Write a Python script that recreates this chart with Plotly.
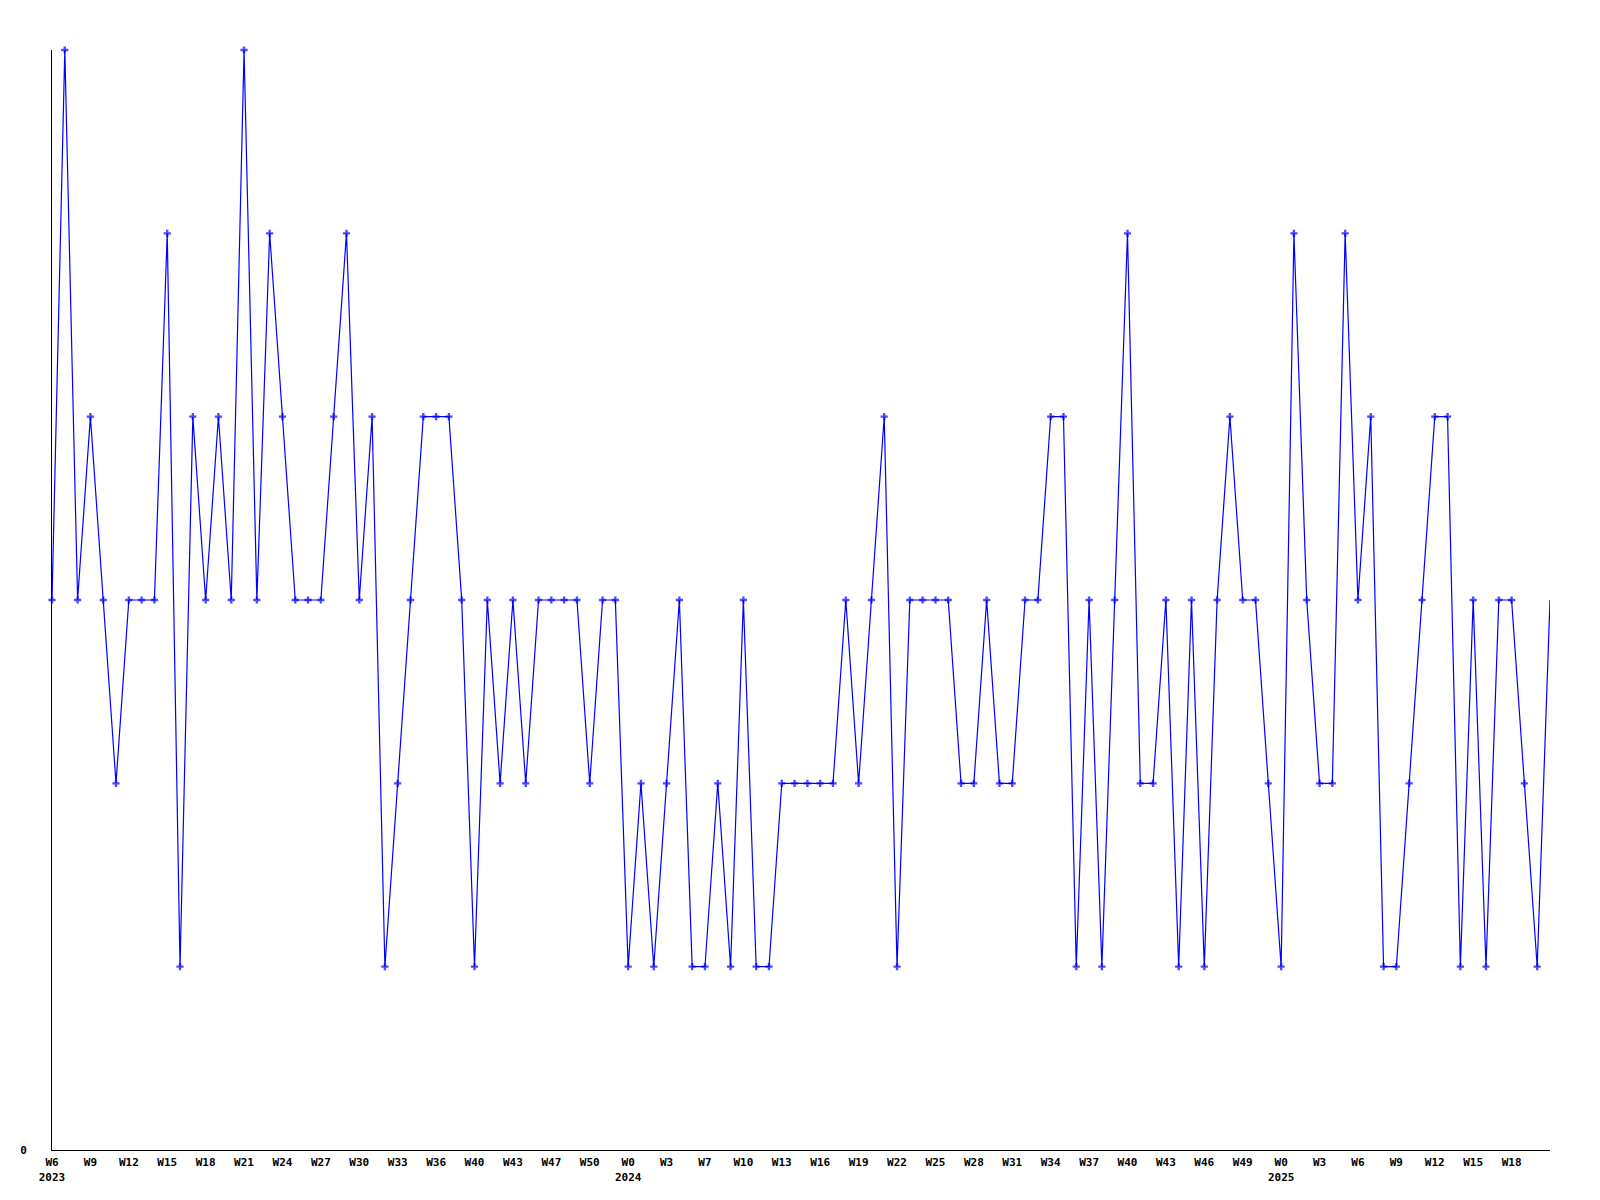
import plotly.graph_objects as go

# Weekly values (index 0 = W6 2023 ... last = ~W19 2025)
values = [
    3, 6, 3, 4, 3, 2, 3, 3, 3, 5, 1, 4, 3, 4, 3, 6, 3, 5, 4, 3, 3,
    3, 4, 5, 3, 4, 1, 2, 3, 4, 4, 4, 3, 1, 3, 2, 3, 2, 3, 3, 3,
    3, 2, 3, 3, 1, 2, 1, 2, 3, 1, 1, 2, 1, 3, 1, 1, 2, 2, 2, 2,
    2, 3, 2, 3, 4, 1, 3, 3, 3, 3, 2, 2, 3, 2, 2, 3, 3, 4, 4, 1, 3,
    1, 3, 5, 2, 2, 3, 1, 3, 1, 3, 4, 3, 3, 2, 1, 5, 3, 2, 2, 5,
    3, 4, 1, 1, 2, 3, 4, 4, 1, 3, 1, 3, 3, 2, 1, 3,
]

# Tick labels, one every 3rd point
tick_labels = [
    "W6<br>2023", "W9", "W12", "W15", "W18", "W21", "W24", "W27", "W30", "W33",
    "W36", "W40", "W43", "W47", "W50", "W0<br>2024", "W3", "W7", "W10", "W13",
    "W16", "W19", "W22", "W25", "W28", "W31", "W34", "W37", "W40", "W43",
    "W46", "W49", "W0<br>2025", "W3", "W6", "W9", "W12", "W15", "W18",
]

n = len(values)
x = list(range(n))
tick_step = 3
tickvals = [i * tick_step for i in range(len(tick_labels))]
marker_sizes = [6] * (n - 1) + [0]

font = dict(family="DejaVu Sans Mono", size=11, color="black", weight="bold")

fig = go.Figure(
    go.Scatter(
        x=x,
        y=values,
        mode="lines+markers",
        line=dict(color="#0000ff", width=1.2),
        marker=dict(symbol="cross", size=marker_sizes, color="#0000ff", line=dict(width=0)),
        cliponaxis=False,
        hoverinfo="x+y",
    )
)

fig.update_layout(
    width=1600,
    height=1200,
    margin=dict(l=42, r=58, t=42, b=58, pad=0),
    plot_bgcolor="white",
    paper_bgcolor="white",
    showlegend=False,
    font=font,
)

fig.update_xaxes(
    range=[0, n - 1],
    tickvals=tickvals,
    ticktext=tick_labels,
    tickfont=font,
    showgrid=False,
    zeroline=False,
    showline=True,
    linecolor="black",
    linewidth=1,
    ticks="",
    ticklabelstandoff=2,
)

fig.update_yaxes(
    range=[0, 6],
    tickvals=[0],
    ticktext=["0"],
    tickfont=font,
    showgrid=False,
    zeroline=False,
    showline=True,
    linecolor="black",
    linewidth=1,
    ticks="",
    ticklabelstandoff=22,
)

fig.write_html("out.html")
